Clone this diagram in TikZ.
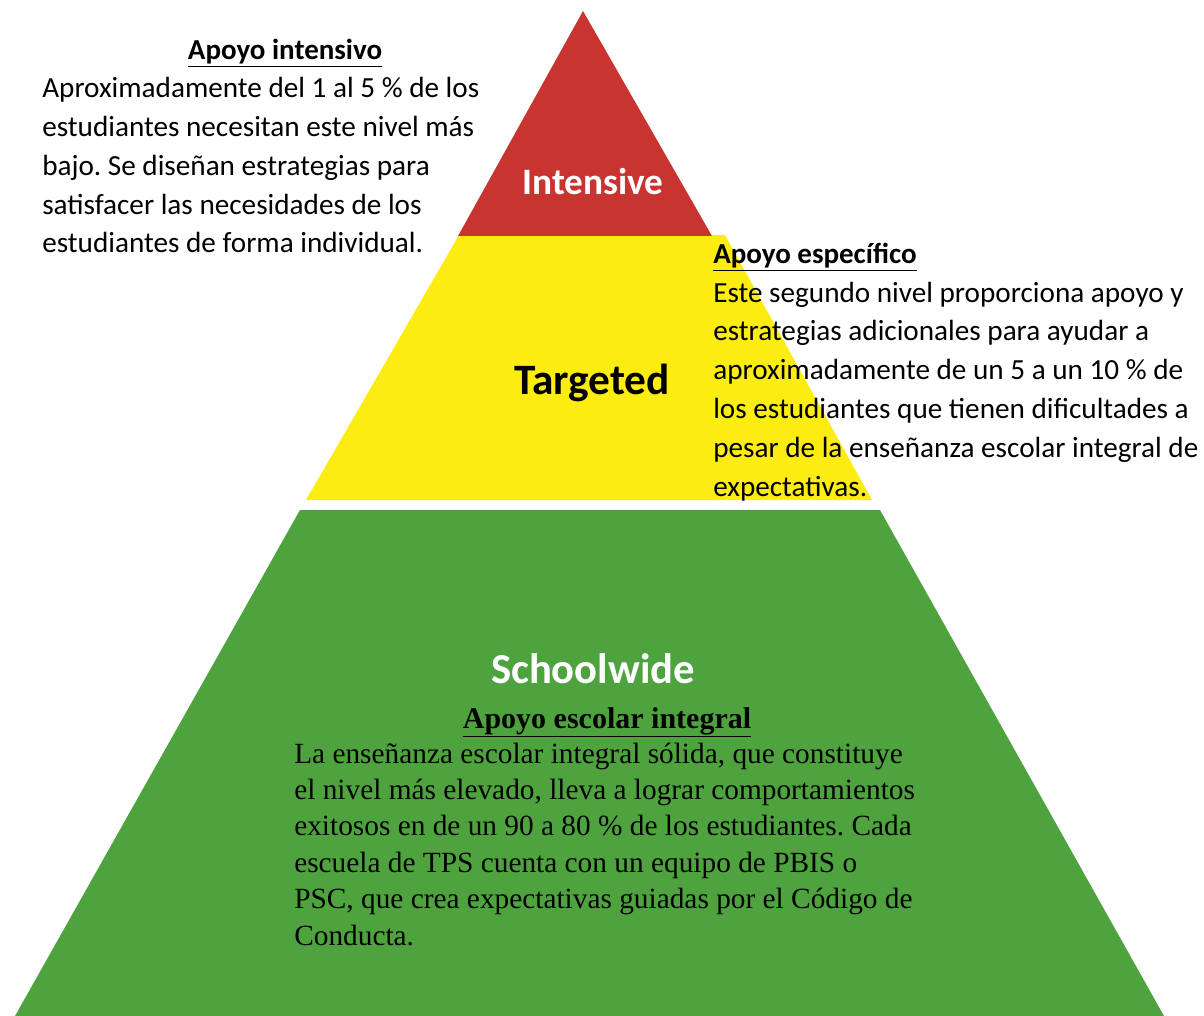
\documentclass[tikz,border=0pt]{standalone}
\usepackage{fontspec}
\setmainfont{Carlito}
\newfontfamily\serifblurb{Liberation Serif}
\usetikzlibrary{positioning}
\definecolor{cTop}{HTML}{C8342F}
\definecolor{cMid}{HTML}{FCEC12}
\definecolor{cBase}{HTML}{4EA33F}
\frenchspacing
\tikzset{
  tiername/.style={inner sep=0pt,anchor=base,font=\bfseries\fontsize{32}{38}\selectfont},
  blurbhead/.style={inner sep=0pt,anchor=base,font=\bfseries\fontsize{21.75}{29}\selectfont},
  blurb/.style={inner sep=0pt,anchor=base west,align=left,font=\fontsize{21.9}{29.1}\selectfont},
  serifhead/.style={inner sep=0pt,anchor=base,font=\serifblurb\bfseries\fontsize{22.5}{27}\selectfont},
  serifbody/.style={inner sep=0pt,anchor=base west,align=left,font=\serifblurb\fontsize{22}{27.3}\selectfont}}

\begin{document}
\begin{tikzpicture}[x=0.75pt,y=-0.75pt]
\useasboundingbox (0,0) rectangle (1204,1016);
% the three tiers
\fill[cBase] (300,510) -- (880,510) -- (1164,1016) -- (15,1016) -- cycle;
\fill[cMid] (459,235) -- (725,235) -- (872,500) -- (306,500) -- cycle;
\fill[cTop] (583,11) -- (712,236) -- (458,236) -- cycle;
\node[tiername,text=white,font=\bfseries\fontsize{28}{34}\selectfont] (intensive) at (593,195) {Intensive};
\node[tiername,font=\bfseries\fontsize{32.5}{38}\selectfont] (targeted) at (592,395) {Targeted};
\node[tiername,text=white] (schoolwide) at (593,683) {Schoolwide};
% top tier text (anchored at the last line)
\node[blurbhead] (headI) at (285,60) {\underline{Apoyo intensivo}};
\node[blurb] (textI) at (42,253) {Aproximadamente del 1 al 5 \% de los\\
  estudiantes necesitan este nivel más\\
  bajo. Se diseñan estrategias para\\
  satisfacer las necesidades de los\\
  estudiantes de forma individual.};
% middle tier text
\node[blurbhead,anchor=base west] (headT) at (713,264) {\underline{Apoyo específico}};
\node[blurb] (textT) at (713,496) {Este segundo nivel proporciona apoyo y\\
  estrategias adicionales para ayudar a\\
  aproximadamente de un 5 a un 10 \% de\\
  los estudiantes que tienen dificultades a\\
  pesar de la enseñanza escolar integral de\\
  expectativas.};
% base tier text
\node[serifhead] (headS) at (607,728) {\underline{Apoyo escolar integral}};
\node[serifbody] (textS) at (294,945) {La enseñanza escolar integral sólida, que constituye\\
  el nivel más elevado, lleva a lograr comportamientos\\
  exitosos en de un 90 a 80 \% de los estudiantes. Cada\\
  escuela de TPS cuenta con un equipo de PBIS o\\
  PSC, que crea expectativas guiadas por el Código de\\
  Conducta.};
\end{tikzpicture}
\end{document}
